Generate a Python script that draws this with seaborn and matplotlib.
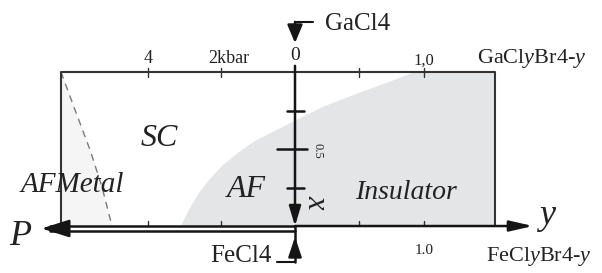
import numpy as np
import pandas as pd
import matplotlib
matplotlib.use("Agg")
import matplotlib.pyplot as plt
import seaborn as sns

# ---------------- data ----------------
# horizontal coordinate: y (composition, to the right of 0) and pressure P (kbar, to the left of 0)
# vertical coordinate: x (composition, 0 = GaCl4 at top, 1 = FeCl4 at bottom)
KBAR_TO_U = 0.285           # horizontal units per kbar on the pressure side
P_MAX = 6.36                # kbar, left edge of the diagram
Y_MAX = 1.55                # right edge of the diagram
p_ticks = [4, 2]
p_tick_labels = ["4", "2kbar"]
y_ticks = [0.5, 1.0]
y_top_labels = ["", "1,0"]
y_bottom_labels = ["", "1.0"]
x_ticks = [0.25, 0.5, 0.75]
x_major = 0.5

# AF / insulator boundary (u, x)
af_u = [-0.891, -0.829, -0.752, -0.674, -0.566, -0.442, -0.310, -0.155,
        -0.016, 0.217, 0.481, 0.736, 0.915]
af_x = [1.0, 0.896, 0.786, 0.701, 0.604, 0.519, 0.442, 0.377,
        0.318, 0.221, 0.136, 0.058, 0.0]
# AF metal boundary (dashed)
afm_u = [-1.814, -1.705, -1.589, -1.496, -1.419]
afm_x = [0.0, 0.247, 0.506, 0.747, 1.0]

# ---------------- style ----------------
sns.set_theme(style="white")
plt.rcParams["font.family"] = ["Liberation Serif", "DejaVu Serif"]
plt.rcParams["mathtext.fontset"] = "custom"
plt.rcParams["mathtext.rm"] = "Liberation Serif"
plt.rcParams["mathtext.it"] = "Liberation Serif:italic"

TXT = "#222222"
BOX = "#333333"
AX = "#151515"
GREY = "#e4e5e7"
LIGHT = "#f5f5f5"

fig = plt.figure(figsize=(6.02, 2.73), dpi=100)
ax = fig.add_axes([0, 0, 1, 1])
ax.set_xlim(-2.287, 2.380)
ax.set_ylim(1.305, -0.4675)
ax.axis("off")

u_left = -P_MAX * KBAR_TO_U
u_right = Y_MAX

# fills
ax.fill_betweenx(af_x, af_u, u_right, color=GREY, lw=0, zorder=1)
ax.fill_betweenx(afm_x, u_left, afm_u, color=LIGHT, lw=0, zorder=1)

# dashed boundary
dfm = pd.DataFrame({"u": afm_u, "x": afm_x})
sns.lineplot(data=dfm, x="u", y="x", sort=False, estimator=None, ax=ax,
             color="#7a7a7a", lw=1.0, zorder=2)
ax.lines[-1].set_dashes([5, 4])

# box (top, left, right)
box = pd.DataFrame({"u": [u_left, u_left, u_right, u_right],
                    "x": [1.0, 0.0, 0.0, 1.0]})
sns.lineplot(data=box, x="u", y="x", sort=False, estimator=None, ax=ax,
             color=BOX, lw=1.5, zorder=3)

# ticks on top and bottom
tick_u = [-p * KBAR_TO_U for p in p_ticks] + list(y_ticks)
for t in tick_u:
    ax.plot([t, t], [-0.026, 0.032], color=BOX, lw=1.0, zorder=3)
    ax.plot([t, t], [0.965, 1.0], color=BOX, lw=1.0, zorder=3)

# tick labels, top
for p, lab in zip(p_ticks, p_tick_labels):
    u = -p * KBAR_TO_U
    if lab == "4":
        ax.text(u, -0.085, lab, ha="center", va="center", fontsize=13, color=TXT)
    else:
        ax.text(u - 0.10, -0.085, lab, ha="left", va="center", fontsize=13, color=TXT)
for yv, lab in zip(y_ticks, y_top_labels):
    if lab:
        ax.text(yv, -0.075, lab, ha="center", va="center", fontsize=12, color=TXT)
for yv, lab in zip(y_ticks, y_bottom_labels):
    if lab:
        ax.text(yv, 1.16, lab, ha="center", va="center", fontsize=11, color=TXT)
ax.text(0.0, -0.108, "0", ha="center", va="center", fontsize=14, color=TXT,
        zorder=5)

# bottom axis lines: y arrow and P double arrow
arrow_kw = dict(shrinkA=0, shrinkB=0, color=AX, lw=1.8)
ax.annotate("", xy=(1.845, 1.0), xytext=(0.0, 1.0),
            arrowprops=dict(arrowstyle="-|>,head_length=0.7,head_width=0.16",
                            mutation_scale=20, **arrow_kw), zorder=4)
ax.plot([u_left, 0.0], [1.0, 1.0], color=AX, lw=1.8, zorder=4)
ax.plot([-1.90, 0.0], [1.032, 1.032], color=AX, lw=1.8, zorder=4)
ax.plot([-1.90, u_left], [1.0, 1.0], color=AX, lw=1.8, zorder=4)
ax.annotate("", xy=(-1.965, 1.016), xytext=(-1.80, 1.016),
            arrowprops=dict(arrowstyle="-|>,head_length=0.85,head_width=0.27",
                            mutation_scale=20, **arrow_kw), zorder=4)

# vertical x axis
ax.plot([0.0, 0.14], [-0.325, -0.325], color=AX, lw=1.5, zorder=4)
ax.annotate("", xy=(0.0, -0.188), xytext=(0.0, -0.325),
            arrowprops=dict(arrowstyle="-|>,head_length=0.55,head_width=0.23",
                            mutation_scale=20, **arrow_kw), zorder=4)
ax.annotate("", xy=(0.0, 1.0), xytext=(0.0, -0.04),
            arrowprops=dict(arrowstyle="-|>,head_length=0.6,head_width=0.18",
                            mutation_scale=20, **arrow_kw), zorder=4)
ax.plot([0.0, 0.0], [1.0, 1.234], color=AX, lw=1.8, zorder=4)
ax.plot([0.0, -0.14], [1.234, 1.234], color=AX, lw=1.5, zorder=4)
ax.annotate("", xy=(0.0, 1.07), xytext=(0.0, 1.15),
            arrowprops=dict(arrowstyle="-|>,head_length=0.6,head_width=0.2",
                            mutation_scale=20, **arrow_kw), zorder=4)
for xt in x_ticks:
    if xt == x_major:
        ax.plot([-0.14, 0.093], [xt, xt], color=AX, lw=1.8, zorder=4)
    else:
        ax.plot([-0.062, 0.07], [xt, xt], color=AX, lw=1.8, zorder=4)
ax.text(0.178, 0.513, "0.5", rotation=-90, ha="center", va="center",
        fontsize=9, color=TXT)
ax.text(0.165, 0.84, "x", rotation=-90, ha="center", va="center",
        fontsize=22, style="italic", color=TXT)

# phase labels
ax.text(-1.054, 0.43, "SC", ha="center", va="center", fontsize=23,
        style="italic", color=TXT)
ax.text(-1.729, 0.735, "AFMetal", ha="center", va="center", fontsize=21,
        style="italic", color=TXT, zorder=6)
ax.text(-0.38, 0.76, "AF", ha="center", va="center", fontsize=23,
        style="italic", color=TXT)
ax.text(0.86, 0.78, "Insulator", ha="center", va="center", fontsize=20,
        style="italic", color=TXT)
ax.text(-2.132, 1.065, "P", ha="center", va="center", fontsize=26,
        style="italic", color=TXT)
ax.text(1.953, 0.93, "y", ha="center", va="center", fontsize=26,
        style="italic", color=TXT)

# compound labels
ax.text(1.837, -0.09, r"GaCl$\mathit{y}$Br4-$\mathit{y}$", ha="center",
        va="center", fontsize=16, color=TXT)
ax.text(1.891, 1.195, r"FeCl$\mathit{y}$Br4-$\mathit{y}$", ha="center",
        va="center", fontsize=16, color=TXT)
ax.text(0.233, -0.312, "GaCl4", ha="left", va="center", fontsize=18, color=TXT)
ax.text(-0.178, 1.195, "FeCl4", ha="right", va="center", fontsize=18, color=TXT)

fig.savefig("out.png", dpi=100)
